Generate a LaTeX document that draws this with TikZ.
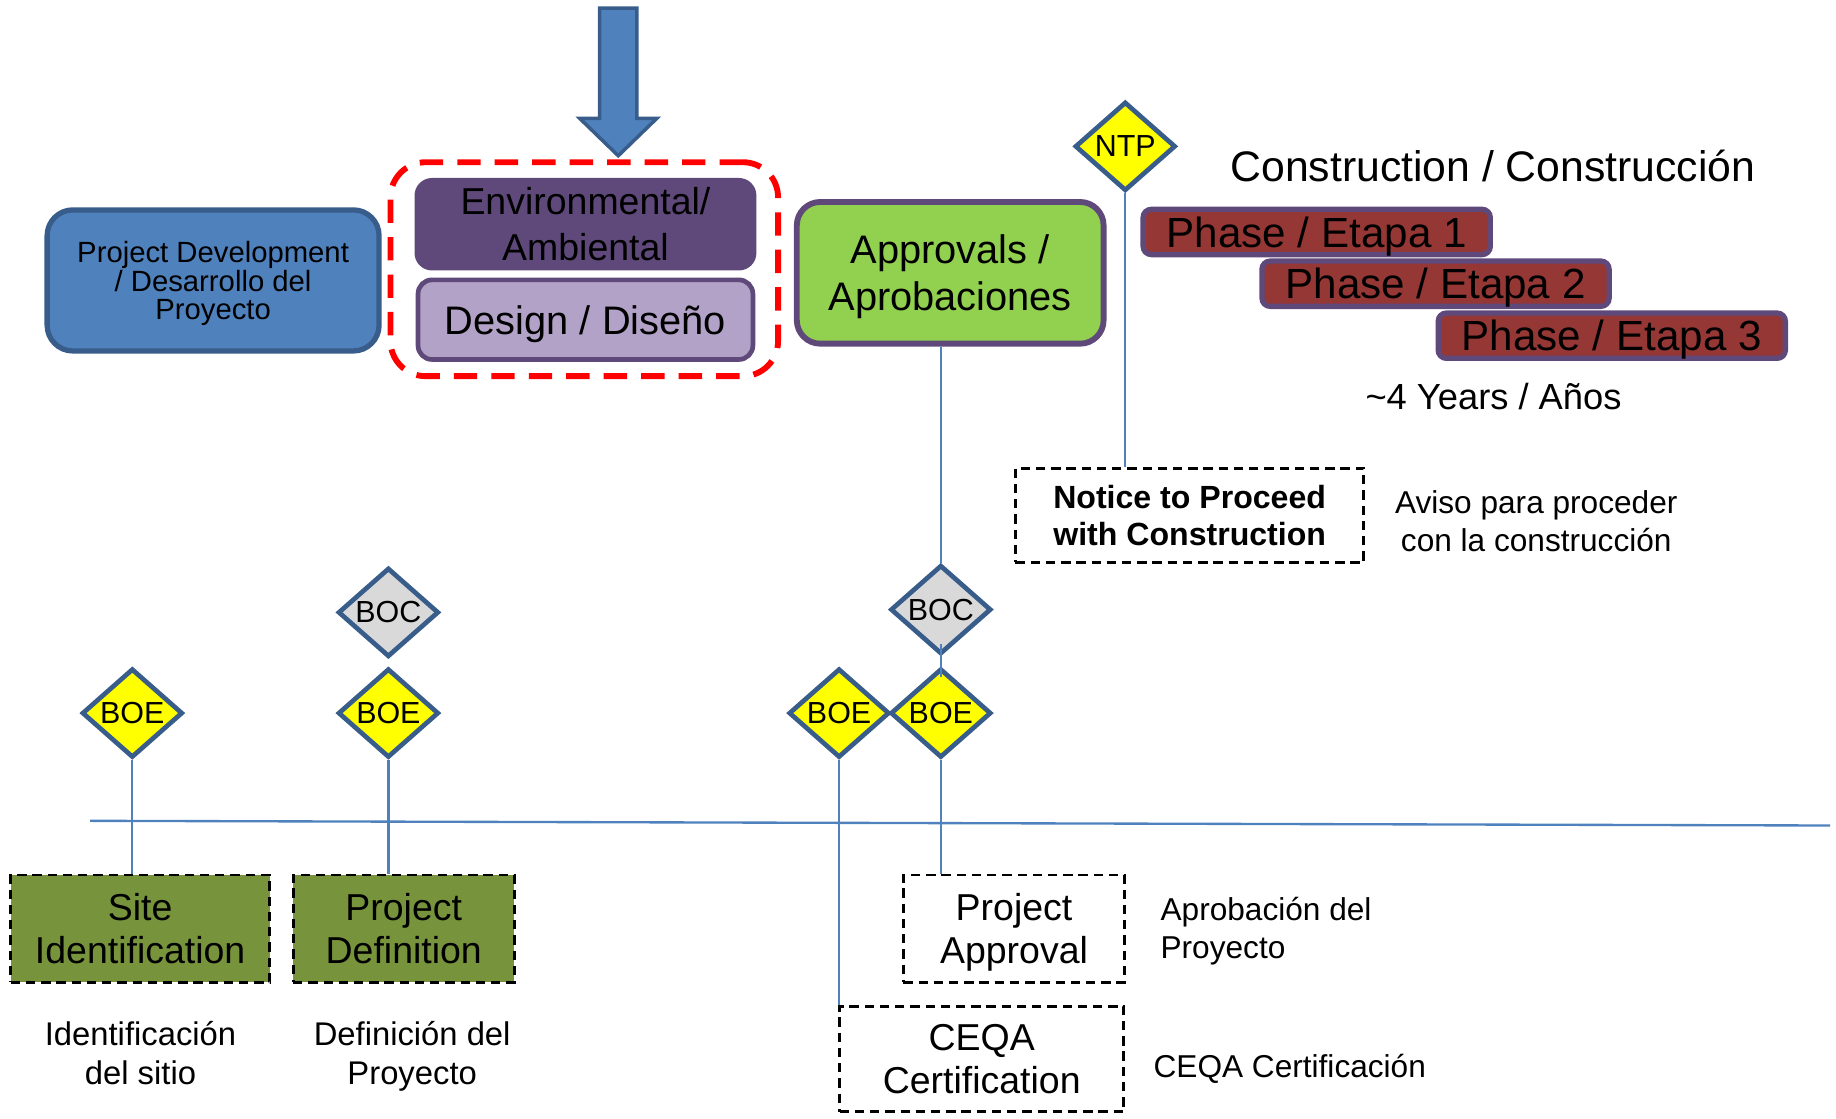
\documentclass[tikz,border=0pt]{standalone}
\usepackage{fontspec}
\setmainfont{Liberation Sans}
\usetikzlibrary{shapes.geometric,calc}
\definecolor{ofblue}{HTML}{4F81BD}
\definecolor{ofbluedk}{HTML}{385D8A}
\definecolor{purpledk}{HTML}{5F497A}
\definecolor{purplelt}{HTML}{B3A2C7}
\definecolor{apgreen}{HTML}{92D050}
\definecolor{olivegr}{HTML}{77933C}
\definecolor{phred}{HTML}{953735}
\definecolor{diagray}{HTML}{D9D9D9}
\definecolor{diayellow}{HTML}{FFFF00}
\newcommand{\myfs}[2]{\fontsize{#1}{#2}\selectfont}
\begin{document}
\begin{tikzpicture}[x=1pt,y=-1pt,inner sep=0pt,
  box/.style={rectangle, align=center, text depth=0pt},
  dia/.style={diamond, draw=ofbluedk, line width=4pt, minimum width=86pt, minimum height=76pt, inner sep=0pt, font={\myfs{26}{26}}},
  boe/.style={dia, fill=diayellow},
  boc/.style={dia, fill=diagray},
  conn/.style={draw=ofblue, line width=2pt},
  dbox/.style={box, draw=black, line width=2.5pt, dash pattern=on 8pt off 5pt, font={\myfs{32}{37}}},
  phase/.style={box, fill=phred, draw=purpledk, line width=4.5pt, rounded corners=7pt, minimum width=296.5pt, minimum height=38.7pt, font={\myfs{36}{36}}}
]
\useasboundingbox (0,0) rectangle (1568,955);

% top arrow
\filldraw[fill=ofblue, draw=ofbluedk, line width=3pt, line join=miter]
  (512,7) -- (544,7) -- (544,101) -- (561,101) -- (528,133) -- (495,101) -- (512,101) -- cycle;

% top row boxes
\node[box, fill=ofblue, draw=ofbluedk, line width=4.5pt, rounded corners=22pt,
  minimum width=283.5pt, minimum height=120.5pt, font={\myfs{25}{24}}]
  (pd) at (182,239.5) {Project Development\\/ Desarrollo del\\Proyecto};

\node[box, draw=red, line width=5pt, dash pattern=on 20pt off 12pt, rounded corners=30pt,
  minimum width=331pt, minimum height=182.7pt] (redbox) at (499,229.9) {};

\node[box, fill=purpledk, draw=purpledk, line width=2pt, rounded corners=14pt,
  minimum width=290pt, minimum height=77pt, font={\myfs{32}{39}}]
  (env) at (500,191.5) {Environmental/\\Ambiental};

\node[box, fill=purplelt, draw=purpledk, line width=4pt, rounded corners=12pt,
  minimum width=286pt, minimum height=68pt, font={\myfs{34}{34}}]
  (design) at (500,273) {Design / Diseño};

\node[box, fill=apgreen, draw=purpledk, line width=5pt, rounded corners=20pt,
  minimum width=262pt, minimum height=121pt, font={\myfs{34}{40}}]
  (appr) at (811.5,233) {Approvals /\\Aprobaciones};

\node[dia, fill=diayellow, font={\myfs{26}{26}}] (ntp) at (961,125) {\makebox[0pt]{NTP}};

\node[font={\myfs{36.5}{36}}, anchor=base] (constr) at (1275,155) {Construction / Construcción};
\node[phase] (ph1) at (1124.5,198.1) {Phase / Etapa 1};
\node[phase] (ph2) at (1226,242.3) {Phase / Etapa 2};
\node[phase] (ph3) at (1376.5,286.7) {Phase / Etapa 3};
\node[font={\myfs{31}{31}}, anchor=base] (years) at (1275.5,350) {\textasciitilde 4 Years / Años};

\node[box, draw=black, line width=2.5pt, dash pattern=on 8pt off 5pt,
  minimum width=297.5pt, minimum height=80.5pt, font={\bfseries\myfs{27.4}{31.4}}]
  (notice) at (1016,440) {Notice to Proceed\\with Construction};
\node[align=center, font={\myfs{27}{33}}, text depth=0pt] (aviso) at (1312,445)
  {Aviso para proceder\\con la construcción};

% milestones
\node[boc] (boc1) at (331.7,523) {\makebox[0pt]{BOC}};
\node[boe] (boe1) at (113,609) {\makebox[0pt]{BOE}};
\node[boe] (boe2) at (331.7,609) {\makebox[0pt]{BOE}};
\node[boc] (boc2) at (803.5,520.6) {\makebox[0pt]{BOC}};
\node[boe] (boe3) at (716.6,609) {\makebox[0pt]{BOE}};
\node[boe] (boe4) at (803.5,609) {\makebox[0pt]{BOE}};

% timeline
\coordinate (tl1) at (77,701);
\coordinate (tl2) at (1563,705);
\draw[conn] (tl1) -- (tl2);

% bottom boxes
\node[dbox, fill=olivegr, minimum width=221pt, minimum height=91.5pt] (site) at (119.7,793) {Site\\Identification};
\node[dbox, fill=olivegr, minimum width=189pt, minimum height=91.5pt] (pdef) at (344.8,793) {Project\\Definition};
\node[dbox, fill=white, minimum width=189pt, minimum height=91.5pt] (pappr) at (866,793) {Project\\Approval};
\node[dbox, fill=white, minimum width=242.7pt, minimum height=90pt] (ceqa) at (838.4,904.3) {CEQA\\Certification};

\node[align=center, font={\myfs{28}{33.4}}, text depth=0pt] (sitees) at (120,899) {Identificación\\del sitio};
\node[align=center, font={\myfs{28}{33.4}}, text depth=0pt] (pdefes) at (352,899) {Definición del\\Proyecto};
\node[align=left, anchor=west, font={\myfs{27}{32.5}}, text depth=0pt] (pappres) at (991,792.4) {Aprobación del\\Proyecto};
\node[anchor=base west, font={\myfs{27}{27}}] (ceqaes) at (985,920.3) {CEQA Certificación};

% connectors
\draw[conn] (appr.south -| boc2.north) -- (boc2.north);
\draw[conn] ([yshift=11pt]boc2.south) -- ([yshift=-9pt]boe4.north);
\draw[conn] (boe4.south) -- (boe4.south |- pappr.north);
\draw[conn] (boe3.south) -- (boe3.south |- ceqa.north);
\draw[conn] (boe1.south) -- (boe1.south |- site.north);
\draw[conn] (boe2.south) -- (boe2.south |- pdef.north);
\draw[conn] (ntp.south) -- (ntp.south |- notice.north);
\end{tikzpicture}
\end{document}
